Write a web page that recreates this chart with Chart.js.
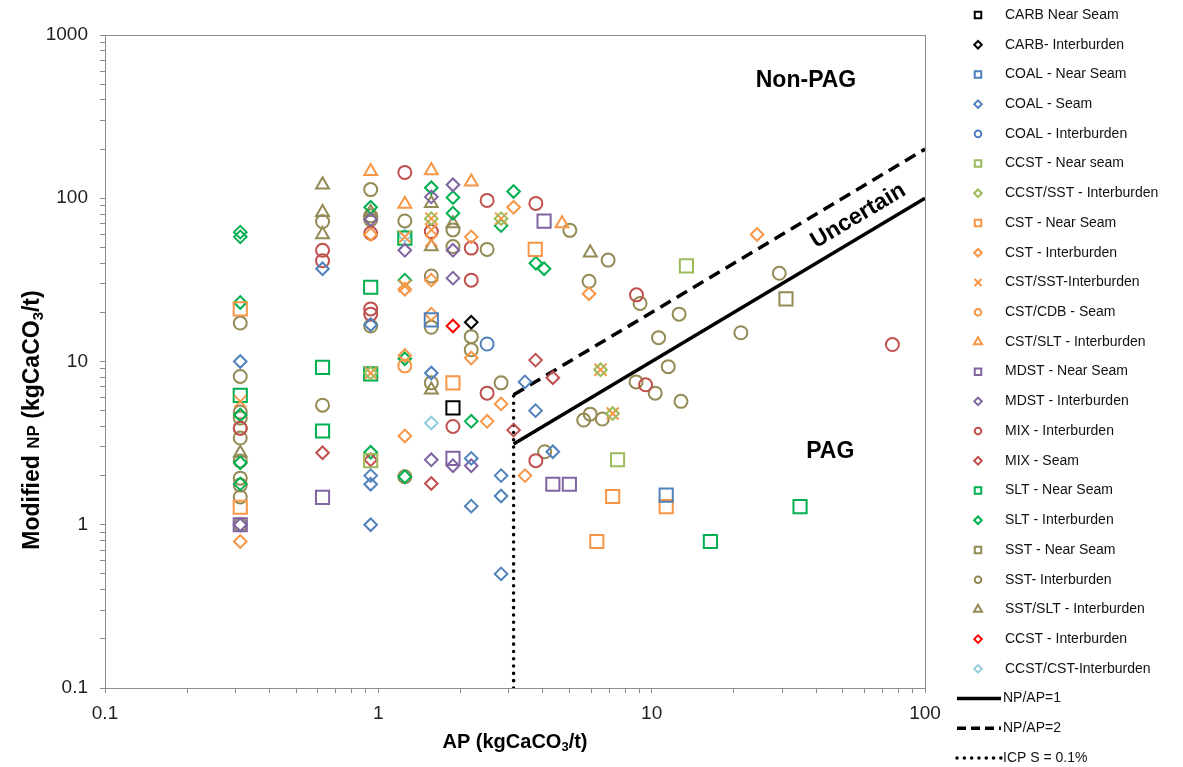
<!DOCTYPE html>
<html>
<head>
<meta charset="utf-8">
<script src="https://cdn.jsdelivr.net/npm/chart.js@4.4.1/dist/chart.umd.min.js"></script>
<style>
  html, body { margin: 0; padding: 0; background: #fff; }
</style>
</head>
<body>
<canvas id="chart" width="1183" height="767"></canvas>
<script>
/* === NP vs AP scatter (log-log) === */

// tick labels (decades)
const xDecades = [0.1, 1, 10, 100];
const yDecades = [0.1, 1, 10, 100, 1000];

// series values: [AP, NP] in kgCaCO3/t
const carbNearSeam = [[1.875, 5.2]];
const carbInterburden = [[2.1875, 17.4]];
const coalNearSeam = [[1.5625, 18], [11.3, 1.52]];
const coalSeam = [[0.3125, 10], [0.625, 37], [0.9375, 16.8], [0.9375, 2.0], [0.9375, 1.77], [0.9375, 1.0],
  [1.5625, 8.5], [2.1875, 2.55], [2.1875, 1.3], [2.8125, 2.0], [2.8125, 1.5], [2.8125, 0.5],
  [3.44, 7.5], [3.76, 5.0], [4.35, 2.8]];
const coalInterburden = [[2.5, 12.8]];
const ccstNearSeam = [[0.9375, 2.47], [7.5, 2.5], [13.4, 38.5]];
const ccstSstInterburden = [[0.9375, 8.5], [1.5625, 75], [2.8125, 75], [6.5, 8.9], [7.2, 4.8]];
const cstNearSeam = [[0.3125, 21], [0.3125, 1.28], [1.875, 7.4], [3.75, 48.6], [7.2, 1.49], [11.3, 1.29], [6.3, 0.79]];
const cstInterburden = [[0.3125, 0.79], [0.9375, 60], [1.25, 27.7], [1.25, 10.9], [1.25, 3.5], [1.5625, 31.5],
  [1.5625, 19.5], [2.1875, 58], [2.1875, 10.5], [2.5, 4.3], [2.8125, 5.5], [3.125, 88], [3.44, 2.0],
  [5.9, 26], [24.3, 60]];
const cstSstInterburden = [[0.3125, 5.7], [0.9375, 8.5], [1.25, 58], [1.25, 29], [1.5625, 75], [1.5625, 64],
  [1.5625, 55], [2.8125, 75], [6.5, 8.9], [7.2, 4.8]];
const cstCdbSeam = [[1.25, 9.4]];
const cstSltInterburden = [[0.9375, 146], [1.25, 92], [1.5625, 148], [2.1875, 126], [4.7, 70]];
const mdstNearSeam = [[0.3125, 1.0], [0.625, 1.47], [1.875, 2.55], [4.35, 1.77], [5.0, 1.77], [4.04, 72.5]];
const mdstInterburden = [[0.3125, 1.0], [0.9375, 74], [1.25, 48], [1.5625, 102], [1.875, 121], [1.875, 48],
  [1.875, 32.4], [1.5625, 2.5], [1.875, 2.3], [2.1875, 2.3]];
const mixInterburden = [[0.3125, 3.9], [0.625, 48], [0.625, 41.4], [0.9375, 61], [0.9375, 21], [0.9375, 19.5],
  [1.25, 144], [1.5625, 62.5], [1.875, 4.0], [2.1875, 49.5], [2.1875, 31.5], [2.5, 97], [2.5, 6.4],
  [3.77, 93], [3.77, 2.47], [8.8, 25.6], [9.5, 7.2], [76, 12.7]];
const mixSeam = [[0.625, 2.76], [0.9375, 2.5], [1.5625, 1.79], [3.125, 3.8], [3.76, 10.2], [4.35, 7.96]];
const sltNearSeam = [[0.3125, 6.2], [0.625, 9.2], [0.625, 3.75], [0.9375, 28.5], [0.9375, 8.4], [1.25, 57],
  [16.4, 0.79], [34.9, 1.29]];
const sltInterburden = [[0.3125, 62], [0.3125, 58], [0.3125, 23], [0.3125, 4.7], [0.3125, 2.4], [0.3125, 1.78],
  [0.9375, 88], [0.9375, 2.78], [1.25, 31.5], [1.25, 10.4], [1.25, 1.97], [1.5625, 116], [1.875, 101],
  [1.875, 81], [2.1875, 4.3], [2.8125, 68], [3.125, 110], [3.77, 40], [4.04, 37]];
const sstNearSeam = [[31, 24.2]];
const sstInterburden = [[0.3125, 17.2], [0.3125, 8.1], [0.3125, 4.9], [0.3125, 4.5], [0.3125, 3.9], [0.3125, 3.4],
  [0.3125, 2.46], [0.3125, 1.93], [0.3125, 1.75], [0.3125, 1.48], [0.3125, 1.0],
  [0.625, 72], [0.625, 5.4], [0.9375, 113], [0.9375, 78], [0.9375, 74], [0.9375, 16.5],
  [1.25, 72.6], [1.25, 1.97], [1.5625, 33.4], [1.5625, 16.2], [1.5625, 7.4], [1.875, 64], [1.875, 50.6],
  [2.1875, 14.2], [2.1875, 11.8], [2.5, 48.6], [2.8125, 7.4], [4.06, 2.8], [5.02, 63.6], [5.9, 31],
  [6.93, 41.8], [9.07, 22.7], [12.6, 19.5], [10.6, 14.0], [11.5, 9.3], [8.77, 7.5], [10.3, 6.4],
  [12.8, 5.7], [5.64, 4.38], [5.96, 4.76], [6.6, 4.44], [21.2, 15.0], [29.3, 34.7]];
const sstSltInterburden = [[0.3125, 2.75], [0.625, 121], [0.625, 82], [0.625, 60], [0.9375, 82], [1.5625, 93],
  [1.5625, 50.6], [1.5625, 6.7], [1.875, 70], [5.96, 46.4]];
const ccstInterburden = [[1.875, 16.5]];
const ccstCstInterburden = [[1.25, 59], [1.5625, 4.2]];

// criteria lines
const npAp1Line = [[3.125, 3.125], [100, 100]];
const npAp2Line = [[3.125, 6.25], [100, 200]];
const icpSLine = [[3.125, 0.1], [3.125, 6.25]];

const FONT = '"Liberation Sans", Arial, sans-serif';
const toXY = arr => arr.map(p => ({ x: p[0], y: p[1] }));

// marker sizes in plot / legend
const SIZE = {
    rect: [9.3, 4.6],
    rectRot: [6.3, 3.8],
    circle: [6.5, 3.3],
    triangle: [7.4, 4.6],
    crossRot: [8.5, 5]
};

function series(label, data, color, style) {
    return {
        label,
        data: toXY(data),
        borderColor: color,
        backgroundColor: 'rgba(0,0,0,0)',
        pointStyle: style,
        pointRadius: SIZE[style][0],
        legendRadius: SIZE[style][1],
        pointBorderWidth: 2,
        showLine: false
    };
}

function refLine(label, data, dash, cap) {
    return {
        label,
        data: toXY(data),
        showLine: true,
        borderColor: '#000',
        borderWidth: 3.5,
        borderDash: dash,
        borderCapStyle: cap,
        pointRadius: 0,
        fill: false
    };
}

const BLUE = '#4F81BD', LGREEN = '#9BBB59', ORANGE = '#F79646', PURPLE = '#8064A2',
      RED = '#C0504D', GREEN = '#00B050', OLIVE = '#948A54';

const datasets = [
    series('CARB Near Seam', carbNearSeam, '#000000', 'rect'),
    series('CARB- Interburden', carbInterburden, '#000000', 'rectRot'),
    series('COAL - Near Seam', coalNearSeam, BLUE, 'rect'),
    series('COAL - Seam', coalSeam, BLUE, 'rectRot'),
    series('COAL - Interburden', coalInterburden, BLUE, 'circle'),
    series('CCST - Near seam', ccstNearSeam, LGREEN, 'rect'),
    series('CCST/SST - Interburden', ccstSstInterburden, LGREEN, 'rectRot'),
    series('CST - Near Seam', cstNearSeam, ORANGE, 'rect'),
    series('CST - Interburden', cstInterburden, ORANGE, 'rectRot'),
    series('CST/SST-Interburden', cstSstInterburden, ORANGE, 'crossRot'),
    series('CST/CDB - Seam', cstCdbSeam, ORANGE, 'circle'),
    series('CST/SLT - Interburden', cstSltInterburden, ORANGE, 'triangle'),
    series('MDST - Near Seam', mdstNearSeam, PURPLE, 'rect'),
    series('MDST - Interburden', mdstInterburden, PURPLE, 'rectRot'),
    series('MIX - Interburden', mixInterburden, RED, 'circle'),
    series('MIX - Seam', mixSeam, RED, 'rectRot'),
    series('SLT - Near Seam', sltNearSeam, GREEN, 'rect'),
    series('SLT - Interburden', sltInterburden, GREEN, 'rectRot'),
    series('SST - Near Seam', sstNearSeam, OLIVE, 'rect'),
    series('SST- Interburden', sstInterburden, OLIVE, 'circle'),
    series('SST/SLT - Interburden', sstSltInterburden, OLIVE, 'triangle'),
    series('CCST - Interburden', ccstInterburden, '#FF0000', 'rectRot'),
    series('CCST/CST-Interburden', ccstCstInterburden, '#93CDDD', 'rectRot'),
    refLine('NP/AP=1', npAp1Line, [], 'butt'),
    refLine('NP/AP=2', npAp2Line, [12, 7], 'butt'),
    refLine('ICP S = 0.1%', icpSLine, [0.1, 7.2], 'round')
];

// 1..9 x 10^n tick marks, labels only on decades
function logTicks(decades) {
    const out = [];
    for (let i = 0; i < decades.length; i++) {
        const d = decades[i];
        if (i === decades.length - 1) { out.push({ value: d }); break; }
        for (let m = 1; m <= 9; m++) out.push({ value: +(d * m).toPrecision(6) });
    }
    return out;
}

function axis(decades, fit, pad) {
    return {
        type: 'logarithmic',
        min: decades[0],
        max: decades[decades.length - 1],
        afterBuildTicks: s => { s.ticks = logTicks(decades); },
        afterFit: fit,
        ticks: {
            autoSkip: false,
            maxRotation: 0,
            padding: pad,
            color: '#222',
            font: { family: FONT, size: 19 },
            callback: v => decades.includes(v) ? String(v) : ''
        },
        grid: { drawOnChartArea: false, drawTicks: true, tickLength: 5, color: '#8c8c8c' },
        border: { color: '#8c8c8c', width: 1 }
    };
}

// mixed-size text (for NP and subscript 3)
function richText(ctx, parts, cx, cy, angle) {
    ctx.save();
    ctx.translate(cx, cy);
    ctx.rotate(angle);
    let total = 0;
    parts.forEach(p => { ctx.font = 'bold ' + p.size + 'px ' + FONT; p.w = ctx.measureText(p.t).width; total += p.w; });
    let x = -total / 2;
    ctx.textBaseline = 'middle';
    ctx.textAlign = 'left';
    ctx.fillStyle = '#000';
    parts.forEach(p => {
        ctx.font = 'bold ' + p.size + 'px ' + FONT;
        ctx.fillText(p.t, x, p.dy || 0);
        x += p.w;
    });
    ctx.restore();
}

const decorPlugin = {
    id: 'decor',
    afterDraw(chart) {
        const ctx = chart.ctx;
        const a = chart.chartArea;
        const xs = chart.scales.x, ys = chart.scales.y;

        // plot frame
        ctx.save();
        ctx.strokeStyle = '#8c8c8c';
        ctx.lineWidth = 1;
        ctx.strokeRect(a.left + 0.5, a.top + 0.5, a.right - a.left, a.bottom - a.top);
        ctx.restore();

        // zone labels
        ctx.save();
        ctx.fillStyle = '#000';
        ctx.textAlign = 'center';
        ctx.textBaseline = 'middle';
        ctx.font = 'bold 23px ' + FONT;
        ctx.fillText('Non-PAG', xs.getPixelForValue(36.7), ys.getPixelForValue(528));
        ctx.fillText('PAG', xs.getPixelForValue(45), ys.getPixelForValue(2.79));
        const ux = xs.getPixelForValue(57), uy = ys.getPixelForValue(78);
        ctx.translate(ux, uy);
        ctx.rotate(-Math.atan((a.bottom - a.top) / 4 / ((a.right - a.left) / 3)));
        ctx.fillText('Uncertain', 0, 0);
        ctx.restore();

        // axis titles
        richText(ctx, [
            { t: 'AP (kgCaCO', size: 20 },
            { t: '3', size: 13, dy: 5 },
            { t: '/t)', size: 20 }
        ], (a.left + a.right) / 2, 742, 0);
        richText(ctx, [
            { t: 'Modified ', size: 23 },
            { t: 'NP', size: 17, dy: 1 },
            { t: ' (kgCaCO', size: 23 },
            { t: '3', size: 15, dy: 6 },
            { t: '/t)', size: 23 }
        ], 33, 420, -Math.PI / 2);

        // legend
        const mx = 978, y0 = 15, step = 29.72;
        chart.data.datasets.forEach((ds, i) => {
            const y = y0 + i * step;
            ctx.save();
            ctx.strokeStyle = ds.borderColor;
            if (ds.showLine) {
                ctx.lineWidth = 3.5;
                ctx.lineCap = ds.borderCapStyle;
                ctx.setLineDash(ds.label === 'NP/AP=2' ? [9, 5] : ds.borderDash);
                ctx.beginPath();
                ctx.moveTo(957, y);
                ctx.lineTo(1001, y);
                ctx.stroke();
                ctx.setLineDash([]);
            } else {
                ctx.lineWidth = 2;
                ctx.fillStyle = ds.backgroundColor;
                Chart.helpers.drawPoint(ctx, {
                    pointStyle: ds.pointStyle, radius: ds.legendRadius, rotation: 0, borderWidth: 2
                }, mx, y);
            }
            ctx.fillStyle = '#111';
            ctx.font = '14px ' + FONT;
            ctx.textAlign = 'left';
            ctx.textBaseline = 'middle';
            ctx.fillText(ds.label, ds.showLine ? 1003 : 1005, y);
            ctx.restore();
        });
    }
};

new Chart(document.getElementById('chart'), {
    type: 'scatter',
    data: { datasets },
    options: {
        responsive: false,
        devicePixelRatio: 1,
        animation: false,
        events: [],
        layout: { padding: { left: 0, top: 35, right: 258, bottom: 0 } },
        plugins: { legend: { display: false }, tooltip: { enabled: false } },
        scales: {
            x: axis(xDecades, s => { s.height = 79; }, 9),
            y: axis(yDecades, s => { s.width = 105; }, 12)
        }
    },
    plugins: [decorPlugin]
});
</script>
</body>
</html>
